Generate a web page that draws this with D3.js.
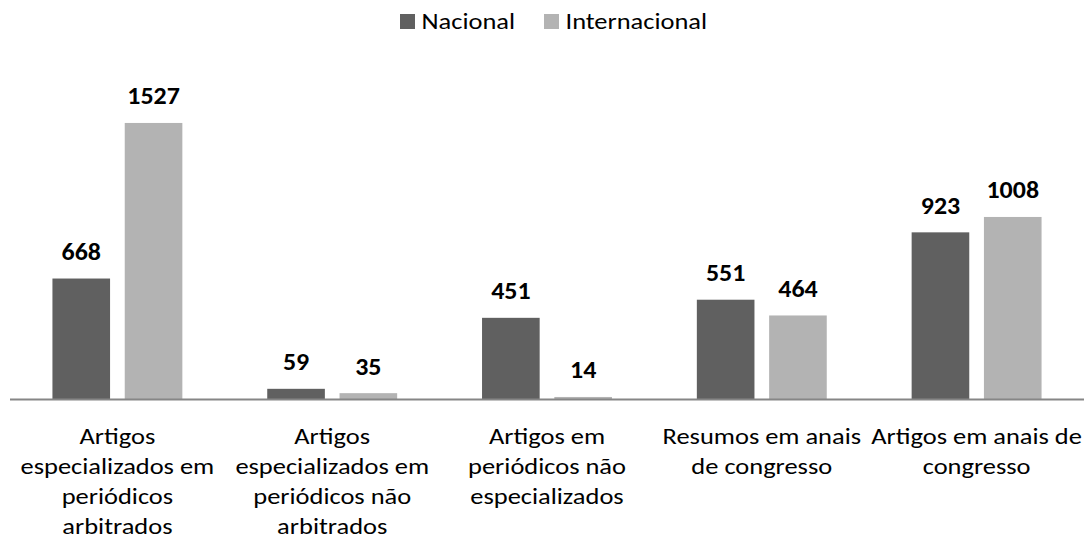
<!DOCTYPE html>
<html>
<head>
<meta charset="utf-8">
<script src="https://cdn.jsdelivr.net/npm/d3@7"></script>
<style>
  body { margin: 0; background: #fff; }
  text { font-family: Carlito, Calibri, "Open Sans", sans-serif; }
</style>
</head>
<body>
<svg id="chart" width="1084" height="541"></svg>
<script>
var categories = [
  'Artigos especializados em periódicos arbitrados',
  'Artigos especializados em periódicos não arbitrados',
  'Artigos em periódicos não especializados',
  'Resumos em anais de congresso',
  'Artigos em anais de congresso'
];
// the line breaks as they show in the axis labels
var categoryLines = [
  ['Artigos', 'especializados em', 'periódicos', 'arbitrados'],
  ['Artigos', 'especializados em', 'periódicos não', 'arbitrados'],
  ['Artigos em', 'periódicos não', 'especializados'],
  ['Resumos em anais', 'de congresso'],
  ['Artigos em anais de', 'congresso']
];
var seriesNames = ['Nacional', 'Internacional'];
var nacional = [668, 59, 451, 551, 923];
var internacional = [1527, 35, 14, 464, 1008];
var colors = ['#606060', '#b3b3b3'];

var svg = d3.select('#chart');
var baseY = 399.5;
// the source picture is a bit wider than the font, stretch text to fit
var stretch = 1.15;

var x0 = d3.scaleBand()
  .domain(categories)
  .range([10, 1084])
  .paddingInner(0)
  .paddingOuter(0);

var x1 = d3.scaleBand()
  .domain(seriesNames)
  .range([0, x0.bandwidth()])
  .paddingInner(0.203)
  .paddingOuter(0.587);

var y = d3.scaleLinear()
  .domain([0, 1800])
  .range([baseY, baseY - 1800 * 0.1811]);

var rows = categories.map(function (c, i) {
  return { cat: c, values: [nacional[i], internacional[i]] };
});

var groups = svg.selectAll('g.cat')
  .data(rows)
  .enter().append('g')
  .attr('class', 'cat')
  .attr('transform', function (d) { return 'translate(' + x0(d.cat) + ',0)'; });

groups.selectAll('rect')
  .data(function (d) {
    return d.values.map(function (v, j) { return { name: seriesNames[j], value: v, j: j }; });
  })
  .enter().append('rect')
  .attr('x', function (d) { return x1(d.name); })
  .attr('width', x1.bandwidth())
  .attr('y', function (d) { return y(d.value); })
  .attr('height', function (d) { return baseY - y(d.value); })
  .attr('fill', function (d) { return colors[d.j]; });

groups.selectAll('text.val')
  .data(function (d) {
    return d.values.map(function (v, j) { return { name: seriesNames[j], value: v }; });
  })
  .enter().append('text')
  .attr('class', 'val')
  .attr('transform', function (d) {
    return 'translate(' + (x1(d.name) + x1.bandwidth() / 2) + ',' + (y(d.value) - 18.5) + ')scale(1.08,1)';
  })
  .attr('text-anchor', 'middle')
  .style('font-size', '24px')
  .style('font-weight', 'bold')
  .attr('fill', '#000')
  .text(function (d) { return d.value; });

// axis line
svg.append('line')
  .attr('x1', 10).attr('x2', 1084)
  .attr('y1', baseY).attr('y2', baseY)
  .attr('stroke', '#868686')
  .attr('stroke-width', 2);

// category labels
categories.forEach(function (c, i) {
  var cx = x0(c) + x0.bandwidth() / 2;
  var t = svg.append('text')
    .attr('transform', 'translate(' + cx + ',444)scale(' + stretch + ',1)')
    .attr('text-anchor', 'middle')
    .style('font-size', '23px')
    .attr('fill', '#000');
  categoryLines[i].forEach(function (line, k) {
    t.append('tspan')
      .attr('x', 0)
      .attr('dy', k === 0 ? 0 : 30)
      .text(line);
  });
});

// legend
var legend = svg.append('g');
var legendX = [400, 544];
seriesNames.forEach(function (name, i) {
  legend.append('rect')
    .attr('x', legendX[i]).attr('y', 14)
    .attr('width', 15).attr('height', 15)
    .attr('fill', colors[i]);
  legend.append('text')
    .attr('transform', 'translate(' + (legendX[i] + 21.5) + ',28.5)scale(' + stretch + ',1)')
    .style('font-size', '23px')
    .attr('fill', '#000')
    .text(name);
});
</script>
</body>
</html>
